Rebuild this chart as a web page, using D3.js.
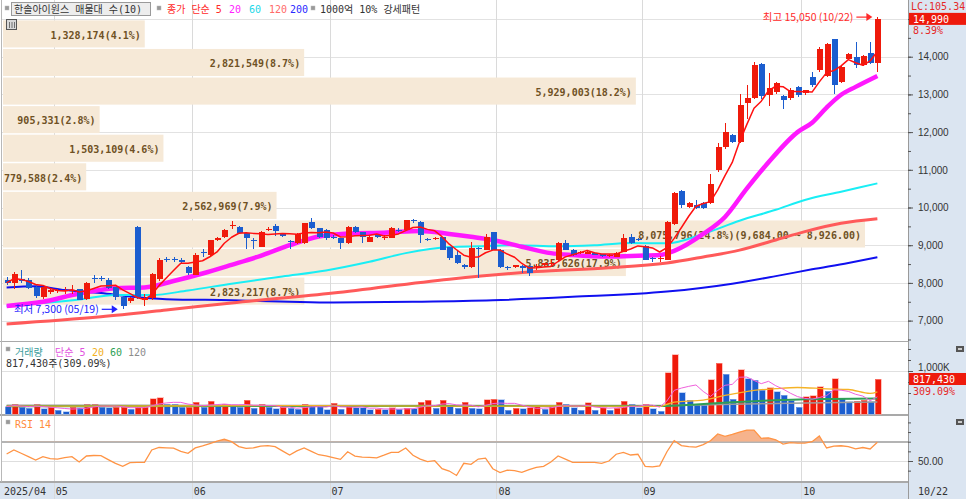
<!DOCTYPE html>
<html>
<head>
<meta charset="utf-8">
<script src="https://cdn.jsdelivr.net/npm/d3@7"></script>
<style>
  body { margin: 0; background: #fff; }
  svg { display: block; font-family: "DejaVu Sans Mono", "Noto Sans CJK KR", monospace; font-size: 10px; }
</style>
</head>
<body>
<div id="chart"></div>
<script>
(function () {

// ---- data ----
var monthNums = [4, 5, 6, 7, 8, 9, 10];
var monthLabels = ["2025/04", "05", "06", "07", "08", "09", "10"];
var monthDays = [
  [22, 23, 24, 25, 28, 29, 30],
  [2, 7, 8, 9, 12, 13, 14, 15, 16, 19, 20, 21, 22, 23, 26, 27, 28, 29, 30],
  [2, 4, 5, 9, 10, 11, 12, 13, 16, 17, 18, 19, 20, 23, 24, 25, 26, 27, 30],
  [1, 2, 3, 4, 7, 8, 9, 10, 11, 14, 15, 16, 17, 18, 21, 22, 23, 24, 25, 28, 29, 30, 31],
  [1, 4, 5, 6, 7, 8, 11, 12, 13, 14, 18, 19, 20, 21, 22, 25, 26, 27, 28, 29],
  [1, 2, 3, 4, 5, 8, 9, 10, 11, 12, 15, 16, 17, 18, 19, 22, 23, 24, 25, 26, 29, 30],
  [1, 2, 10, 13, 14, 15, 16, 17, 20, 21, 22]
];

var opens = [
  8080, 8000, 8100, 8080, 7900, 7620, 7760, 7780, 7780, 7790,
  7840, 7580, 8130, 8130, 8080, 7880, 7630, 7520, 9490, 7560,
  7590, 8100, 8640, 8630, 8620, 8420, 8220, 8820, 8740, 9150,
  9220, 9520, 9480, 9320, 9150, 8960, 9400, 9510, 9300, 9110,
  9050, 9050, 9610, 9450, 9400, 9230, 9180, 9050, 9480, 9350,
  9090, 9280, 9190, 9190, 9410, 9400, 9660, 9610, 9170, 9160,
  9220, 8950, 8750, 8480, 8420, 8930, 8880, 9350, 8880, 8430,
  8430, 8450, 8450, 8440, 8470, 8500, 8600, 9050, 8880, 8790,
  8780, 8790, 8760, 8710, 8700, 8830, 9220, 9160, 8970, 8670,
  8640, 8610, 9560, 10440, 10020, 10070, 10130, 10110, 10990, 11610,
  11920, 11750, 12760, 12900, 13800, 12980, 13070, 12960, 12900, 13200,
  13030, 13460, 13650, 13500, 14460, 13330, 13950, 14000, 13780, 14100,
  13820
];
var highs = [
  8150, 8300, 8350, 8120, 7950, 7900, 7850, 7850, 7900, 7950,
  7850, 8020, 8200, 8180, 8120, 7900, 7650, 7620, 9500, 7700,
  8260, 8650, 8700, 8700, 8650, 8450, 8800, 8900, 9150, 9220,
  9420, 9650, 9500, 9340, 9200, 9380, 9470, 9560, 9330, 9150,
  9320, 9600, 9720, 9460, 9420, 9260, 9200, 9500, 9520, 9360,
  9240, 9300, 9260, 9470, 9450, 9680, 9700, 9650, 9180, 9220,
  9230, 8960, 8850, 8500, 9080, 8960, 9300, 9360, 8890, 8450,
  8480, 8470, 8460, 8500, 8540, 8600, 9080, 9150, 8900, 8850,
  8850, 8810, 8780, 8760, 8810, 9300, 9300, 9200, 9000, 8700,
  8720, 9640, 10420, 10460, 10150, 10200, 10150, 10900, 11700, 12250,
  11950, 13000, 13250, 13870, 13820, 13560, 13320, 12990, 13170, 13220,
  13130, 13600, 14250, 14370, 14480, 13780, 14100, 14400, 14040, 14400,
  15050
];
var lows = [
  7950, 7850, 8000, 7850, 7600, 7580, 7700, 7720, 7700, 7700,
  7550, 7560, 8000, 8050, 7850, 7560, 7300, 7480, 7580, 7390,
  7560, 8050, 8550, 8550, 8500, 8200, 8200, 8700, 8700, 9100,
  9180, 9430, 9300, 8900, 8900, 8940, 9380, 9250, 9220, 8900,
  9030, 9040, 9420, 9200, 9150, 9160, 8900, 9040, 9330, 9050,
  9080, 9200, 9150, 9180, 9350, 9390, 9600, 9050, 9100, 9150,
  8860, 8620, 8500, 8380, 8400, 8130, 8860, 8860, 8400, 8350,
  8400, 8270, 8180, 8350, 8440, 8480, 8580, 8860, 8720, 8760,
  8770, 8730, 8700, 8680, 8690, 8820, 9030, 9100, 8600, 8550,
  8560, 8600, 9540, 10000, 9980, 9970, 9970, 10100, 10950, 11550,
  11700, 11700, 12350, 12880, 12870, 12700, 13000, 12600, 12850, 12930,
  12980, 13200, 13600, 13450, 13000, 13300, 13900, 13700, 13750, 13800,
  13600
];
var closes = [
  8000, 8230, 8050, 7870, 7640, 7880, 7820, 7800, 7800, 7810,
  7560, 8000, 8100, 8110, 7860, 7620, 7390, 7600, 7600, 7600,
  8240, 8600, 8610, 8600, 8560, 8250, 8740, 8790, 9130, 9200,
  9400, 9540, 9320, 9190, 9120, 9350, 9430, 9390, 9250, 9090,
  9310, 9580, 9450, 9220, 9180, 9190, 9050, 9480, 9350, 9220,
  9220, 9230, 9210, 9450, 9390, 9660, 9640, 9270, 9140, 9200,
  8880, 8650, 8530, 8420, 8930, 8900, 9220, 8880, 8420, 8410,
  8470, 8400, 8270, 8460, 8520, 8540, 9050, 8880, 8740, 8810,
  8830, 8750, 8720, 8730, 8790, 9200, 9050, 9140, 8620, 8630,
  8660, 9620, 10380, 10060, 10120, 9990, 9990, 10620, 11610, 12010,
  11750, 12720, 12900, 13780, 12950, 13160, 13290, 12850, 13120, 12980,
  13110, 13250, 14200, 14350, 13250, 13740, 14070, 13780, 14020, 13830,
  14990
];
// volume, thousand shares
var volumes = [
  190, 240, 180, 150, 240, 140, 175, 110, 75, 175,
  170, 245, 250, 175, 170, 175, 180, 130, 175, 180,
  375, 390, 250, 245, 175, 180, 285, 175, 315, 225,
  245, 205, 175, 335, 150, 245, 175, 145, 175, 150,
  130, 245, 225, 190, 115, 265, 130, 205, 165, 160,
  115, 135, 115, 165, 130, 150, 145, 295, 330, 150,
  330, 190, 150, 295, 150, 145, 350, 360, 352, 113,
  150, 145, 165, 188, 135, 188, 293, 248, 165, 113,
  278, 113, 165, 113, 150, 316, 248, 165, 248, 143,
  90, 955, 1368, 504, 338, 248, 218, 805, 1180, 925,
  353, 1030, 827, 789, 564, 617, 526, 451, 323, 173,
  414, 436, 639, 541, 827, 376, 301, 310, 338, 301,
  817.43
];
var rsiValues = [
  57.3, 61.4, 58, 54.5, 51, 54.5, 52.5, 52, 53.5, 54.5,
  49, 55.2, 55.7, 55.5, 51.5, 47.5, 44.5, 48.3, 48.5, 48.6,
  61.4, 64, 63.6, 63.3, 60, 58, 63.6, 65.6, 68, 70.5,
  72.5, 70, 65, 63, 63.5, 65.5, 66, 64.8, 60.5, 56.2,
  60.5, 63.5, 60, 56.5, 55.2, 53.5, 51.7, 59.6, 55, 54,
  53.8, 53.3, 56, 59, 59, 63.5, 56, 52, 49.3, 50.3,
  42, 39.6, 35, 47.6, 46.6, 52, 53, 42, 38, 40.5,
  40, 38.3, 41, 43.5, 44.5, 49, 55.2, 52, 48.6, 48.6,
  48.6, 48.6, 47.6, 50, 57, 59, 56.2, 57, 44.5, 44,
  45, 59.6, 71, 66, 64.8, 64.3, 67, 71, 78, 75.5,
  77.5, 80, 82, 82, 73.5, 74, 72, 67.6, 69, 68.5,
  68.5, 70, 76, 63.5, 65.5, 65.8, 65, 62.5, 64, 62.5,
  69.5
];

// moving averages read at points along the lines: [candle index, value]
var ma20Pts = [[0, 7390], [5, 7500], [10, 7720], [15, 7860], [19, 7880], [23, 8050], [27, 8250], [31, 8480],
  [35, 8720], [39, 9000], [43, 9230], [48, 9320], [52, 9330], [57, 9380], [61, 9300], [64, 9225], [67, 9140],
  [71, 8960], [75, 8790], [78, 8740], [83, 8700], [87, 8720], [90, 8740], [92, 8850], [96, 9300], [99, 9750],
  [102, 10500], [105, 11200], [109, 12000], [111, 12250], [113, 12650], [115, 12990], [117, 13200], [120, 13490]];
var ma60Pts = [[0, 7390], [10, 7560], [15, 7680], [20, 7680], [25, 7800], [31, 7980], [38, 8170], [44, 8330],
  [50, 8560], [55, 8790], [61, 8950], [65, 8970], [70, 9000], [76, 8970], [81, 9000], [86, 9060], [91, 9050],
  [96, 9300], [101, 9650], [106, 9940], [110, 10200], [115, 10420], [120, 10640]];
var ma120Pts = [[0, 6910], [13, 7100], [22, 7280], [31, 7470], [45, 7730], [61, 8100], [73, 8300], [83, 8400],
  [91, 8530], [96, 8690], [101, 8870], [106, 9140], [110, 9360], [115, 9580], [120, 9700]];
var ma200Pts = [[0, 7880], [4, 7910], [8, 7810], [13, 7730], [17, 7640], [22, 7570], [31, 7540], [39, 7500],
  [45, 7480], [56, 7500], [67, 7540], [78, 7630], [91, 7770], [100, 7980], [106, 8180], [111, 8360],
  [116, 8530], [120, 8680]];
var volMa20Pts = [[0, 200], [20, 205], [40, 215], [60, 200], [75, 205], [90, 195], [91, 240], [92, 295],
  [96, 340], [99, 445], [103, 560], [106, 600], [109, 625], [113, 595], [116, 580], [119, 490], [120, 525]];
var volMa60Pts = [[0, 200], [90, 205], [95, 240], [100, 290], [105, 330], [110, 360], [120, 375]];
var volMa120Pts = [[0, 220], [90, 215], [100, 245], [110, 275], [120, 295]];

// volume profile (매물대), top band first
var bandVolumes = [1328174, 2821549, 5929003, 905331, 1503109, 779588, 2562969, 8075796, 5835626, 2823217];
var bandTop = 14990, bandBottom = 7410;

// ---- layout ----
var W = 966, H = 499,
    plotL = 2, plotR = 908;

var n = closes.length;
var fmt = d3.format(",");

var x = d3.scaleBand().domain(d3.range(n)).range([3, 881]);
function cx(i) { return x(i) + x.bandwidth() / 2; }

var y = d3.scaleLinear().domain([6539, 15504]).range([338, 0]);
var yVol = d3.scaleLinear().domain([0, 1000]).range([415, 371]);
var yRsi = d3.scaleLinear().domain([50, 70]).range([461, 441.7]);
var xBand = d3.scaleLinear().domain([0, d3.max(bandVolumes)]).range([plotL + 1, 865]);

var dates = [], monthStart = [];
monthDays.forEach(function (days, m) {
  monthStart.push(dates.length);
  days.forEach(function (d) { dates.push([monthNums[m], d]); });
});
function dateLabel(i) { return d3.format("02")(dates[i][0]) + "/" + d3.format("02")(dates[i][1]); }

var upColor = "#ef1a0b", downColor = "#1b5dcf";

var svg = d3.select("#chart").append("svg")
    .attr("width", W)
    .attr("height", H);

svg.append("rect").attr("width", W).attr("height", H).attr("fill", "#fff");
svg.append("rect").attr("x", plotR).attr("width", W - plotR).attr("height", H).attr("fill", "#dbe5f1");
svg.append("rect").attr("y", 482).attr("width", plotR).attr("height", H - 482).attr("fill", "#dbe5f1");

function crisp(v) { return Math.round(v) + 0.5; }

// ---- grid ----
var grid = svg.append("g").attr("shape-rendering", "crispEdges");

grid.selectAll(".pgrid")
    .data(d3.range(7000, 15001, 1000))
    .enter().append("line")
    .attr("x1", plotL).attr("x2", plotR)
    .attr("y1", function (d) { return crisp(y(d)); })
    .attr("y2", function (d) { return crisp(y(d)); })
    .attr("stroke", "#e2e2e2");

grid.selectAll(".mgrid")
    .data(monthStart.slice(1))
    .enter().append("line")
    .attr("x1", function (d) { return crisp(x(d)); })
    .attr("x2", function (d) { return crisp(x(d)); })
    .attr("y1", 0).attr("y2", H)
    .attr("stroke", "#dadada");

grid.append("line").attr("x1", plotL).attr("x2", plotR)
    .attr("y1", crisp(yVol(1000))).attr("y2", crisp(yVol(1000))).attr("stroke", "#e0e0e0");
grid.append("line").attr("x1", plotL).attr("x2", plotR)
    .attr("y1", crisp(yRsi(50))).attr("y2", crisp(yRsi(50))).attr("stroke", "#dedede");
grid.append("line").attr("x1", plotL).attr("x2", plotR)
    .attr("y1", yRsi(70)).attr("y2", yRsi(70)).attr("stroke", "#b4b4b4").attr("stroke-width", 2);

// pane separators and borders
[[341.5, 1.5], [415, 2], [481.5, 2]].forEach(function (s) {
  grid.append("line").attr("x1", 0).attr("x2", plotR)
      .attr("y1", s[0]).attr("y2", s[0])
      .attr("stroke", "#a9a9a9").attr("stroke-width", s[1]);
});
grid.append("line").attr("x1", 1.5).attr("x2", 1.5).attr("y1", 0).attr("y2", 482).attr("stroke", "#b8b8b8");
grid.append("line").attr("x1", plotR + 0.5).attr("x2", plotR + 0.5).attr("y1", 0).attr("y2", H).attr("stroke", "#9a9a9a");

// ---- volume profile bands ----
var bandStep = (bandTop - bandBottom) / bandVolumes.length;
var bandTotal = d3.sum(bandVolumes);
var bandMax = d3.maxIndex(bandVolumes);
var fmt2 = d3.format(",.2f"), fmtPct = d3.format(".1f");

var bands = svg.append("g");
bandVolumes.forEach(function (v, k) {
  var hi = bandTop - k * bandStep, lo = hi - bandStep;
  var y0 = y(hi), y1 = y(lo);
  bands.append("rect")
      .attr("x", plotL + 1).attr("y", y0 + 1)
      .attr("width", xBand(v) - plotL - 1).attr("height", y1 - y0 - 1.5)
      .attr("fill", "#f6e9d7");
  var label = fmt(v) + "(" + fmtPct(v / bandTotal * 100) + "%)";
  if (k === bandMax) label += "(" + fmt2(hi) + " ~ " + fmt2(lo) + ")";
  bands.append("text")
      .attr("x", xBand(v) - 4).attr("y", (y0 + y1) / 2 + 5)
      .attr("text-anchor", "end")
      .attr("fill", "#6f5124")
      .attr("font-weight", "bold")
      .text(label);
});

// ---- price lines and candles ----
svg.append("clipPath").attr("id", "priceClip")
    .append("rect").attr("x", plotL).attr("y", 0).attr("width", plotR - plotL).attr("height", 339);

var price = svg.append("g").attr("clip-path", "url(#priceClip)");

var ptLine = d3.line()
    .x(function (d) { return cx(d[0]); })
    .y(function (d) { return y(d[1]); })
    .curve(d3.curveMonotoneX);

function drawLine(g, data, gen, color, width) {
  g.append("path")
      .attr("d", gen(data))
      .attr("fill", "none")
      .attr("stroke", color)
      .attr("stroke-width", width)
      .attr("stroke-linejoin", "round");
}

drawLine(price, ma200Pts, ptLine, "#1010f0", 2);
drawLine(price, ma120Pts, ptLine, "#ff5a5a", 3);
drawLine(price, ma60Pts, ptLine, "#19eef5", 2);
drawLine(price, ma20Pts, ptLine, "#ff18ff", 4.5);

var candles = price.selectAll(".candle")
    .data(d3.range(n))
    .enter().append("g")
    .attr("shape-rendering", "crispEdges");

candles.append("line")
    .attr("x1", function (i) { return Math.round(cx(i)) + 0.5; })
    .attr("x2", function (i) { return Math.round(cx(i)) + 0.5; })
    .attr("y1", function (i) { return y(highs[i]); })
    .attr("y2", function (i) { return y(lows[i]); })
    .attr("stroke", function (i) { return closes[i] >= opens[i] ? upColor : downColor; });

candles.append("rect")
    .attr("x", function (i) { return Math.round(cx(i)) - 2; })
    .attr("width", 6)
    .attr("y", function (i) { return y(Math.max(opens[i], closes[i])); })
    .attr("height", function (i) { return Math.max(1, Math.abs(y(opens[i]) - y(closes[i]))); })
    .attr("fill", function (i) { return closes[i] >= opens[i] ? upColor : downColor; });

// 5-day average of the closes
var ma5 = closes.map(function (c, i) { return d3.mean(closes.slice(Math.max(0, i - 4), i + 1)); });
drawLine(price, ma5.map(function (v, i) { return [i, v]; }), d3.line()
    .x(function (d) { return cx(d[0]); })
    .y(function (d) { return y(d[1]); }), "#ff1010", 1.5);

// high / low markers
var hiIdx = d3.maxIndex(highs), loIdx = d3.minIndex(lows);
function marker(i, v, color, label) {
  var yy = y(v), tip = cx(i) - 5;
  svg.append("line").attr("x1", tip - 16).attr("x2", tip - 4).attr("y1", yy).attr("y2", yy)
      .attr("stroke", color).attr("stroke-width", 1.2);
  svg.append("path")
      .attr("d", "M" + tip + "," + yy + "L" + (tip - 6) + "," + (yy - 4) + "L" + (tip - 6) + "," + (yy + 4) + "Z")
      .attr("fill", color);
  svg.append("text")
      .attr("x", tip - 19).attr("y", yy + 4)
      .attr("text-anchor", "end").attr("fill", color)
      .attr("font-family", "'Noto Sans CJK KR', sans-serif").attr("font-size", 10.5)
      .text(label);
}
marker(hiIdx, highs[hiIdx], "#ff2a2a", "최고 " + fmt(highs[hiIdx]) + " (" + dateLabel(hiIdx) + ")");
marker(loIdx, lows[loIdx], "#2222ff", "최저 " + fmt(lows[loIdx]) + " (" + dateLabel(loIdx) + ")");

// ---- volume pane ----
var vol = svg.append("g");
vol.selectAll(".vbar")
    .data(d3.range(n))
    .enter().append("rect")
    .attr("shape-rendering", "crispEdges")
    .attr("x", function (i) { return Math.round(cx(i)) - 2; })
    .attr("width", 6)
    .attr("y", function (i) { return yVol(volumes[i]); })
    .attr("height", function (i) { return yVol(0) - yVol(volumes[i]) - 1; })
    .attr("fill", function (i) { return i > 0 && volumes[i] >= volumes[i - 1] ? upColor : downColor; })
    .attr("stroke", function (i) { return i > 0 && volumes[i] >= volumes[i - 1] ? "#ff9c92" : "#9ab8ee"; })
    .attr("stroke-width", 0.6);

var vLine = d3.line()
    .x(function (d) { return cx(d[0]); })
    .y(function (d) { return yVol(d[1]); })
    .curve(d3.curveMonotoneX);
drawLine(vol, volMa120Pts, vLine, "#9c9c9c", 1.5);
drawLine(vol, volMa60Pts, vLine, "#2f9f55", 2);
drawLine(vol, volMa20Pts, vLine, "#f5b326", 1.3);
var vma5 = volumes.map(function (v, i) { return [i, d3.mean(volumes.slice(Math.max(0, i - 4), i + 1))]; });
drawLine(vol, vma5, d3.line().x(function (d) { return cx(d[0]); }).y(function (d) { return yVol(d[1]); }), "#f060dc", 1);

// ---- RSI pane ----
var rsi = svg.append("g");
svg.append("clipPath").attr("id", "rsiClip")
    .append("rect").attr("x", plotL).attr("y", 416).attr("width", plotR - plotL).attr("height", yRsi(70) - 416);
rsi.append("path")
    .attr("clip-path", "url(#rsiClip)")
    .attr("d", d3.area()
        .x(function (d, i) { return cx(i); })
        .y0(yRsi(70))
        .y1(function (d) { return yRsi(d); })(rsiValues))
    .attr("fill", "#f6b38c");
rsi.append("path")
    .attr("d", d3.line().x(function (d, i) { return cx(i); }).y(function (d) { return yRsi(d); })(rsiValues))
    .attr("fill", "none")
    .attr("stroke", "#ff9445")
    .attr("stroke-width", 1.3);

// ---- right axes ----
function styleAxis(g) {
  g.select(".domain").remove();
  g.selectAll("line").attr("stroke", "#555");
  g.selectAll("text").attr("fill", "#333").attr("font-size", 10).attr("font-family", null);
}

svg.append("g").attr("transform", "translate(" + plotR + ",0)")
    .call(d3.axisRight(y).tickValues(d3.range(7000, 14001, 1000)).tickSize(5).tickPadding(5).tickFormat(fmt))
    .call(styleAxis);
svg.append("g").attr("transform", "translate(" + plotR + ",0)")
    .call(d3.axisRight(y).tickValues(d3.range(6500, 15001, 500)).tickSize(3).tickFormat(""))
    .call(styleAxis);
svg.append("g").attr("transform", "translate(" + plotR + ",0)")
    .call(d3.axisRight(yVol).tickValues([1000]).tickSize(5).tickPadding(5).tickFormat(function () { return "1,000K"; }))
    .call(styleAxis)
    .selectAll("text").attr("dy", "-0.05em");
svg.append("g").attr("transform", "translate(" + plotR + ",0)")
    .call(d3.axisRight(yVol).tickValues([250, 500, 750, 1250, 1500]).tickSize(3).tickFormat(""))
    .call(styleAxis);
svg.append("g").attr("transform", "translate(" + plotR + ",0)")
    .call(d3.axisRight(yRsi).tickValues([50]).tickSize(5).tickPadding(5).tickFormat(d3.format(".2f")))
    .call(styleAxis);
svg.append("g").attr("transform", "translate(" + plotR + ",0)")
    .call(d3.axisRight(yRsi).tickValues([40, 60, 70, 80, 90]).tickSize(3).tickFormat(""))
    .call(styleAxis);

// last price box
var last = n - 1;
var prevClose = closes[last - 1];
svg.append("text").attr("x", plotR + 3).attr("y", 10).attr("fill", "#e52a2a").text("LC:105.34");
svg.append("rect").attr("x", plotR + 1).attr("y", y(closes[last]) - 6.5).attr("width", W - plotR - 1).attr("height", 12)
    .attr("fill", "#ee1a0c");
svg.append("text").attr("x", plotR + 5).attr("y", y(closes[last]) + 3.5).attr("fill", "#fff").text(fmt(closes[last]));
svg.append("text").attr("x", plotR + 5).attr("y", y(closes[last]) + 15).attr("fill", "#e52a2a")
    .text(d3.format(".2f")((closes[last] / prevClose - 1) * 100) + "%");

// last volume box
var volRatio = "309.09";
svg.append("rect").attr("x", plotR + 1).attr("y", 373).attr("width", W - plotR - 1).attr("height", 12).attr("fill", "#ee1a0c");
svg.append("text").attr("x", plotR + 5).attr("y", 383).attr("fill", "#fff").text(fmt(volumes[last] * 1000));
svg.append("text").attr("x", plotR + 5).attr("y", 395).attr("fill", "#e52a2a").text(volRatio + "%");

// small pane icons
[346, 419].forEach(function (yy) {
  svg.append("rect").attr("x", 956).attr("y", yy).attr("width", 8).attr("height", 6).attr("fill", "#555");
  svg.append("rect").attr("x", 958).attr("y", yy + 2).attr("width", 4).attr("height", 2).attr("fill", "#ccc");
});

// ---- x axis labels ----
monthStart.forEach(function (s, m) {
  svg.append("text")
      .attr("x", m === 0 ? 4 : x(s) + 2).attr("y", 495)
      .attr("fill", "#333")
      .text(monthLabels[m]);
});
svg.append("text").attr("x", 918).attr("y", 495).attr("fill", "#333").text(dateLabel(last));

// ---- headers ----
function bullet(xx, yy) {
  svg.append("rect").attr("x", xx).attr("y", yy).attr("width", 4).attr("height", 4)
      .attr("fill", "#999").attr("stroke", "#bbb").attr("stroke-width", 0.5);
}
bullet(5, 6);
svg.append("rect").attr("x", 11.5).attr("y", 2.5).attr("width", 139).attr("height", 13)
    .attr("fill", "#ededed").attr("stroke", "#9a9a9a");
svg.append("text").attr("x", 14).attr("y", 13).attr("fill", "#333").text("한솔아이원스 매물대 수(10)");
bullet(157, 6);
var legend = [["종가 단순 5", "#ff2a2a", 167], ["20", "#ff22ff", 229], ["60", "#1cd8e8", 249],
              ["120", "#ff6a6a", 269], ["200", "#2a2aff", 290]];
legend.forEach(function (l) {
  svg.append("text").attr("x", l[2]).attr("y", 13).attr("fill", l[1]).text(l[0]);
});
bullet(311, 6);
svg.append("text").attr("x", 320).attr("y", 13).attr("fill", "#333").text("1000억 10% 강세패턴");

// table icon under header
svg.append("rect").attr("x", 6.5).attr("y", 19.5).attr("width", 10).attr("height", 10)
    .attr("fill", "#d8d8d8").attr("stroke", "#555");
[9.5, 12, 14.5].forEach(function (xx) {
  svg.append("line").attr("x1", xx).attr("x2", xx).attr("y1", 22).attr("y2", 28).attr("stroke", "#555").attr("stroke-width", 0.8);
});

bullet(6, 347);
var volLegend = [["거래량", "#3a9c9c", 15], ["단순 5", "#e253e0", 55], ["20", "#f2b01e", 92],
                 ["60", "#2f9f55", 110], ["120", "#8c8c8c", 128]];
volLegend.forEach(function (l) {
  svg.append("text").attr("x", l[2]).attr("y", 356).attr("fill", l[1]).text(l[0]);
});
svg.append("text").attr("x", 6).attr("y", 367).attr("fill", "#333")
    .text(fmt(volumes[last] * 1000) + "주(" + volRatio + "%)");

bullet(6, 420);
svg.append("text").attr("x", 15).attr("y", 428).attr("fill", "#ff8c3c").text("RSI 14");

})();
</script>
</body>
</html>
